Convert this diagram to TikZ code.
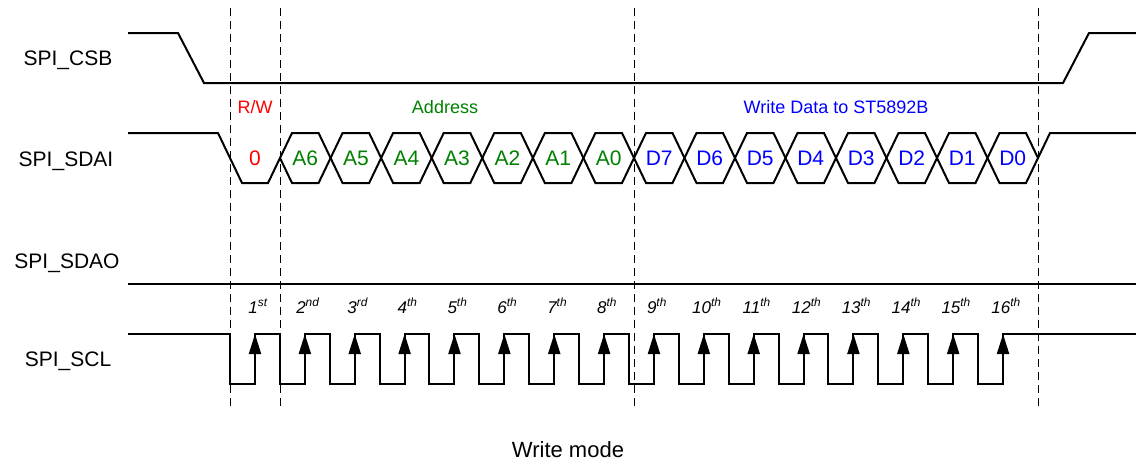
\documentclass[tikz,border=0pt]{standalone}
\usepackage{fontspec}
\setmainfont{Liberation Sans}
\usetikzlibrary{arrows.meta}
\definecolor{rwred}{RGB}{255,0,0}
\definecolor{addrgreen}{RGB}{0,128,0}
\definecolor{datablue}{RGB}{0,0,255}
\begin{document}
\begin{tikzpicture}[x=1pt,y=-1pt,
  wave/.style={line width=2pt, line join=miter},
  guide/.style={line width=0.9pt, dash pattern=on 8pt off 5pt},
  signame/.style={font=\fontsize{21}{24}\selectfont, anchor=base, inner sep=0pt},
  bitlbl/.style={font=\fontsize{21}{24}\selectfont, anchor=base, inner sep=0pt},
  grplbl/.style={font=\fontsize{18}{21}\selectfont, anchor=base, inner sep=0pt},
  ordlbl/.style={font=\fontsize{17}{20}\selectfont\itshape, anchor=base, inner sep=0pt},
  clkarrow/.style={-{Triangle[length=20pt,width=12pt]}, line width=2pt}]
\useasboundingbox (0,0) rectangle (1136,464);

% signal names
\node[signame] (ncsb) at (68,65) {SPI\_CSB};
\node[signame] (nsdai) at (66,166) {SPI\_SDAI};
\node[signame] (nsdao) at (67,268) {SPI\_SDAO};
\node[signame] (nscl) at (68,366) {SPI\_SCL};

% dashed guides
\foreach \gx in {230,280,634,1038}
  \draw[guide] (\gx,8) -- (\gx,410);

% CSB
\draw[wave] (128,33) -- (178,33) -- (204,83) -- (1063,83) -- (1089,33) -- (1136,33);

% SDAI
\draw[wave] (128,133) -- (218,133) -- (242,183) -- (268,183) -- (280,158);
\node[bitlbl, text=rwred] (brw) at (255,165.5) {0};
\foreach \lbl [count=\i from 0] in {A6,A5,A4,A3,A2,A1,A0} {
  \pgfmathsetmacro\ca{280+\i*50.571}
  \pgfmathsetmacro\cb{280+(\i+1)*50.571}
  \draw[wave] (\ca,158) -- ({\ca+12},133) -- ({\cb-12},133) -- (\cb,158)
              -- ({\cb-12},183) -- ({\ca+12},183) -- cycle;
  \node[bitlbl, text=addrgreen] (ba\i) at ({(\ca+\cb)/2},165.5) {\lbl};
}
\foreach \lbl [count=\i from 0] in {D7,D6,D5,D4,D3,D2,D1,D0} {
  \pgfmathsetmacro\ca{634+\i*50.5}
  \pgfmathsetmacro\cb{634+(\i+1)*50.5}
  \draw[wave] (\ca,158) -- ({\ca+12},133) -- ({\cb-12},133) -- (\cb,158)
              -- ({\cb-12},183) -- ({\ca+12},183) -- cycle;
  \node[bitlbl, text=datablue] (bd\i) at ({(\ca+\cb)/2},165.5) {\lbl};
}
\draw[wave] (1038,158) -- (1050,133) -- (1136,133);

% group labels
\node[grplbl, text=rwred] (grw) at (255,113) {R/W};
\node[grplbl, text=addrgreen] (gaddr) at (445,113) {Address};
\node[grplbl, text=datablue] (gdata) at (836,113) {Write Data to ST5892B};

% SDAO
\draw[wave] (128,284) -- (1136,284);

% SCL
\draw[wave] (128,334) foreach \k in {0,...,15} {
   -- ({230+\k*49.87},334) -- ({230+\k*49.87},384)
   -- ({255+\k*49.87},384) -- ({255+\k*49.87},334) } -- (1136,334);
\foreach \k in {0,...,15}
  \draw[clkarrow] ({255+\k*49.87},384) -- ({255+\k*49.87},334);

% ordinals
\foreach \n/\s [count=\k from 0] in {1/st,2/nd,3/rd,4/th,5/th,6/th,7/th,8/th,9/th,10/th,11/th,12/th,13/th,14/th,15/th,16/th}
  \node[ordlbl] (o\k) at ({258+\k*49.87},313) {\n\textsuperscript{\s}};

% caption
\node[font=\fontsize{22}{26}\selectfont, anchor=base, inner sep=0pt] (cap) at (568,457) {Write mode};
\end{tikzpicture}
\end{document}
